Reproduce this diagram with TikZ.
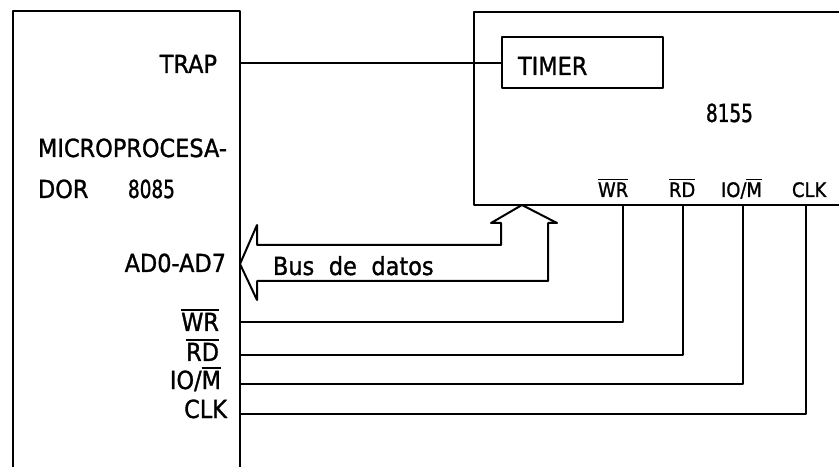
\documentclass[tikz,border=0pt]{standalone}
\usepackage{fontspec}
\setmainfont{DejaVu Sans}[FakeStretch=0.9,FakeBold=1.2]
\newfontfamily\narrowdigits{DejaVu Sans}[FakeStretch=0.74,FakeBold=1.2]
\newcommand\ovl[1]{\leavevmode\vbox{\hrule height 1.8pt\kern 2pt\hbox{#1}}}
\begin{document}
\begin{tikzpicture}[x=1bp,y=-1bp,line width=2bp,line join=round,
  lbl/.style={inner sep=0pt,font=\fontsize{25}{28}\selectfont},
  pinlbl/.style={inner sep=0pt,font=\fontsize{20}{23}\selectfont},
  boxed/.style={draw,inner sep=0pt,minimum width=161bp,minimum height=51bp}]
\useasboundingbox (0,0) rectangle (839,467);

% 8085 block (open at bottom)
\draw (13,467) -- (13,11) -- (240,11) -- (240,467);
% 8155 block (cut at right)
\draw (839,12) -- (474,12) -- (474,205) -- (839,205);

% TIMER
\node[boxed] (timer) at (582.5,62.5) {};
\node[lbl,anchor=base west] (timerlbl) at (517,75) {TIMER};
\node[lbl,anchor=base west] (n8155) at (705,122) {\narrowdigits 8155};

% 8085 labels
\node[lbl,anchor=base east] (trap) at (218,73) {TRAP};
\node[lbl,anchor=base west] (micro) at (37,157) {MICROPROCESA-};
\node[lbl,anchor=base west] (dor) at (37,198) {DOR};
\node[lbl,anchor=base west] (n8085) at (127,198) {\narrowdigits 8085};
\node[lbl,anchor=base east] (ad) at (227,272) {AD0-AD7};
\node[lbl,anchor=base east] (wrl) at (220,331) {\ovl{WR}};
\node[lbl,anchor=base east] (rdl) at (220,361) {\ovl{RD}};
\node[lbl,anchor=base east] (iol) at (222,389) {IO/\ovl{M}};
\node[lbl,anchor=base east] (clkl) at (228,418) {CLK};

% 8155 pin labels
\node[pinlbl,anchor=base west] (wrr) at (597,197) {\ovl{WR}};
\node[pinlbl,anchor=base west] (rdr) at (668,197) {\ovl{RD}};
\node[pinlbl,anchor=base west] (ior) at (720,197) {IO/\ovl{M}};
\node[pinlbl,anchor=base west] (clkr) at (791,197) {CLK};

% TRAP connection
\coordinate (trapP) at (240,63);
\draw (trapP) -- (trapP -| timer.west);

% pin connections
\coordinate (wrA) at (240,322);  \coordinate (wrB) at (623,205);
\coordinate (rdA) at (240,355);  \coordinate (rdB) at (683,205);
\coordinate (ioA) at (240,384);  \coordinate (ioB) at (743,205);
\coordinate (clkA) at (240,414); \coordinate (clkB) at (806,205);
\draw (wrA) -| (wrB);
\draw (rdA) -| (rdB);
\draw (ioA) -| (ioB);
\draw (clkA) -| (clkB);

% data bus arrow
\coordinate (busL) at (240,264);
\coordinate (busU) at (522,205);
\draw (busL) -- (257,225) -- (257,245) -- (501,245) -- (501,223) -- (491,223)
  -- (busU) -- (557,223) -- (548,223) -- (548,281) -- (257,281) -- (257,300) -- cycle;
\node[lbl,anchor=base west] (bus) at (272,275) {Bus\hspace{0.3em} de\hspace{0.3em} datos};
\end{tikzpicture}
\end{document}
